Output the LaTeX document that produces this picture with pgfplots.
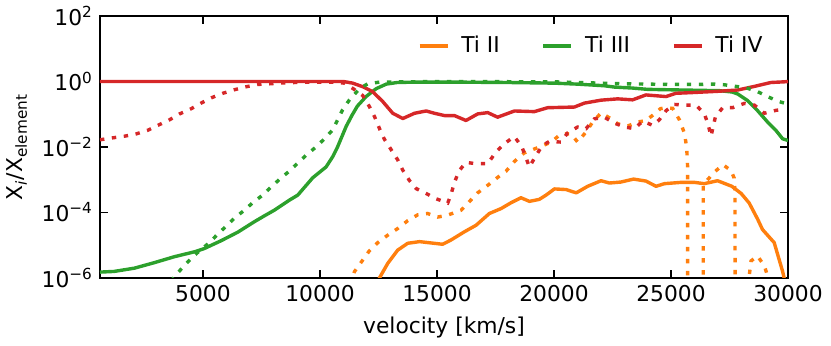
\documentclass[border=0pt]{standalone}
\usepackage{fontspec}
\setmainfont{DejaVu Sans}
\usepackage{pgfplots}
\pgfplotsset{compat=1.18}
\definecolor{tiorange}{HTML}{FF7F0E}
\definecolor{tigreen}{HTML}{2CA02C}
\definecolor{tired}{HTML}{D62728}
\begin{document}
\begin{tikzpicture}
\useasboundingbox (-50pt,-34pt) rectangle (365.5pt,139pt);
\begin{axis}[
  at={(0,0)}, anchor=south west,
  scale only axis, width=344pt, height=131pt,
  xmin=600, xmax=30000, ymin=-6, ymax=2,
  scaled x ticks=false,
  xtick={5000,10000,15000,20000,25000,30000},
  xticklabels={5000,10000,15000,20000,25000,30000},
  ytick={-6,-4,-2,0,2},
  yticklabels={10\textsuperscript{−6},10\textsuperscript{−4},10\textsuperscript{−2},10\textsuperscript{0},10\textsuperscript{2}},
  tick align=inside,
  major tick length=4pt,
  every tick/.style={black, line width=0.8pt},
  axis line style={line width=1pt},
  font=\fontsize{10.9}{13}\selectfont,
  xlabel={velocity [km/s]},
  ylabel={X\textsubscript{\textit{i}}/X\textsubscript{element}},
  xlabel style={at={(axis description cs:0.5,0)}, anchor=center, yshift=-24.5pt},
  ylabel style={at={(axis description cs:-0.1206,0.5)}, anchor=center},
  legend columns=3,
  legend style={draw=none, fill=none, at={(rel axis cs:0.978,0.885)}, anchor=east,
    /tikz/every odd column/.append style={column sep=4pt},
    /tikz/every even column/.append style={column sep=19pt}},
  legend image code/.code={\draw[#1, line cap=butt] (0pt,0pt) -- (14pt,0pt);},
  solid line/.style={line width=1.7pt, line join=round},
  dot line/.style={line width=1.7pt, dash pattern=on 2.2pt off 3.8pt, line cap=butt},
]
\addplot[tiorange, solid line] coordinates {(12480,-6.2)(12540,-6.0)(12900,-5.55)(13320,-5.15)(13750,-4.94)(14250,-4.89)(14750,-4.93)(15240,-4.97)(15600,-4.84)(16170,-4.59)(16670,-4.39)(17240,-4.03)(17740,-3.88)(18170,-3.70)(18590,-3.55)(18950,-3.66)(19370,-3.60)(19660,-3.47)(20020,-3.28)(20520,-3.30)(20950,-3.40)(21440,-3.20)(22010,-3.03)(22370,-3.10)(22860,-3.07)(23400,-2.98)(23930,-3.04)(24360,-3.20)(24720,-3.12)(25430,-3.08)(26000,-3.08)(26420,-3.12)(26990,-3.03)(27600,-3.20)(28000,-3.42)(28340,-3.71)(28700,-4.20)(28910,-4.52)(29410,-4.92)(29770,-5.80)(29900,-6.2)};
\addlegendentry{Ti II}
\addplot[tigreen, solid line] coordinates {(600,-5.82)(1200,-5.80)(2070,-5.70)(2930,-5.53)(3780,-5.35)(4640,-5.20)(5060,-5.10)(5780,-4.86)(6490,-4.60)(7200,-4.28)(7630,-4.10)(8050,-3.93)(8700,-3.62)(9050,-3.47)(9690,-2.94)(10260,-2.61)(10550,-2.29)(10750,-2.00)(11120,-1.37)(11370,-1.03)(11600,-0.75)(11970,-0.46)(12400,-0.22)(12830,-0.08)(13300,-0.03)(14000,-0.02)(16000,-0.02)(18000,-0.03)(20000,-0.05)(21000,-0.08)(22150,-0.13)(22580,-0.17)(23350,-0.20)(24000,-0.24)(25480,-0.26)(27070,-0.28)(27600,-0.32)(27850,-0.38)(28270,-0.58)(28700,-0.89)(29130,-1.24)(29480,-1.49)(29770,-1.75)(30000,-1.80)};
\addlegendentry{Ti III}
\addplot[tired, solid line] coordinates {(600,0)(11000,0)(11400,-0.05)(11830,-0.16)(12250,-0.31)(12680,-0.61)(13110,-0.97)(13540,-1.13)(14040,-0.97)(14390,-0.92)(14540,-0.90)(14890,-0.97)(15320,-1.04)(15740,-1.04)(16240,-1.19)(16740,-0.99)(17170,-0.95)(17590,-1.09)(18310,-0.90)(19160,-0.92)(19730,-0.80)(20870,-0.78)(21300,-0.66)(22010,-0.57)(22720,-0.53)(23360,-0.56)(23930,-0.41)(24790,-0.46)(25210,-0.36)(25860,-0.34)(26990,-0.30)(27850,-0.26)(28560,-0.15)(29270,-0.03)(29840,-0.01)(30000,0.0)};
\addlegendentry{Ti IV}
\addplot[tiorange, dot line, forget plot] coordinates {(11300,-6.2)(11470,-5.81)(11830,-5.45)(12110,-5.17)(12470,-4.92)(12900,-4.69)(13320,-4.49)(13750,-4.25)(14180,-4.07)(14600,-4.03)(15030,-4.14)(15460,-4.08)(16030,-3.93)(16380,-3.67)(16740,-3.40)(17170,-3.17)(17590,-2.93)(17950,-2.74)(18310,-2.44)(18730,-2.18)(19090,-2.08)(19450,-1.98)(19880,-1.85)(20300,-1.60)(20730,-1.60)(21010,-1.85)(21370,-1.54)(21650,-1.24)(22010,-0.96)(22370,-1.11)(22720,-1.29)(23150,-1.36)(23570,-1.24)(23930,-1.19)(24220,-1.03)(24550,-0.83)(24790,-0.80)(25070,-0.82)(25360,-1.17)(25570,-1.57)(25670,-2.0)(25710,-2.6)(25715,-10)(26375,-10)(26380,-3.15)(26850,-2.77)(27220,-2.54)(27565,-2.72)(27700,-2.95)(27736,-3.4)(27740,-10)(28340,-10)(28350,-5.9)(28420,-5.48)(28700,-5.33)(28990,-5.63)(29130,-5.94)(29250,-6.3)};
\addplot[tigreen, dot line, forget plot] coordinates {(3650,-6.1)(3780,-5.96)(4140,-5.67)(4500,-5.40)(4850,-5.17)(5280,-4.92)(5630,-4.66)(5990,-4.42)(6350,-4.17)(6770,-3.93)(7130,-3.70)(7550,-3.47)(7910,-3.22)(8270,-2.99)(8700,-2.73)(9050,-2.49)(9410,-2.25)(9830,-2.00)(10190,-1.75)(10540,-1.48)(10970,-0.86)(11260,-0.56)(11690,-0.22)(12040,-0.07)(12540,-0.02)(15000,0.0)(20000,-0.01)(22000,-0.05)(23000,-0.07)(24000,-0.08)(25000,-0.09)(26000,-0.09)(26850,-0.08)(27280,-0.10)(27780,-0.15)(28200,-0.19)(28700,-0.31)(29130,-0.46)(29550,-0.60)(29850,-0.66)};
\addplot[tired, dot line, forget plot] coordinates {(600,-1.78)(1150,-1.72)(1650,-1.67)(2150,-1.60)(2640,-1.49)(3070,-1.34)(3570,-1.17)(4000,-0.99)(4500,-0.83)(4920,-0.66)(5350,-0.50)(5850,-0.36)(6350,-0.25)(6850,-0.16)(7340,-0.09)(7840,-0.07)(8500,-0.04)(9500,-0.02)(10500,-0.02)(11050,-0.05)(11400,-0.21)(11830,-0.43)(12100,-0.75)(12330,-1.07)(12550,-1.45)(12750,-1.76)(13040,-2.08)(13320,-2.39)(13540,-2.71)(13820,-3.02)(14110,-3.27)(14540,-3.42)(14960,-3.58)(15460,-3.71)(15600,-3.45)(15740,-3.10)(15930,-2.74)(16240,-2.47)(16670,-2.51)(17170,-2.51)(17520,-2.15)(17880,-1.90)(18300,-1.68)(18620,-1.98)(18950,-2.61)(19230,-2.26)(19510,-1.95)(19800,-1.83)(20300,-1.85)(20580,-1.57)(21010,-1.39)(21370,-1.44)(21730,-1.14)(22150,-1.09)(22580,-1.27)(23010,-1.39)(23440,-1.44)(23790,-1.21)(24220,-1.34)(24500,-1.17)(24790,-0.89)(25140,-0.70)(25640,-0.72)(26070,-0.72)(26420,-0.98)(26570,-1.27)(26710,-1.67)(26900,-1.07)(27210,-0.80)(27630,-0.80)(28130,-0.67)(28560,-0.72)(28990,-0.97)(29490,-0.88)(29850,-0.85)};
\end{axis}
\end{tikzpicture}
\end{document}
